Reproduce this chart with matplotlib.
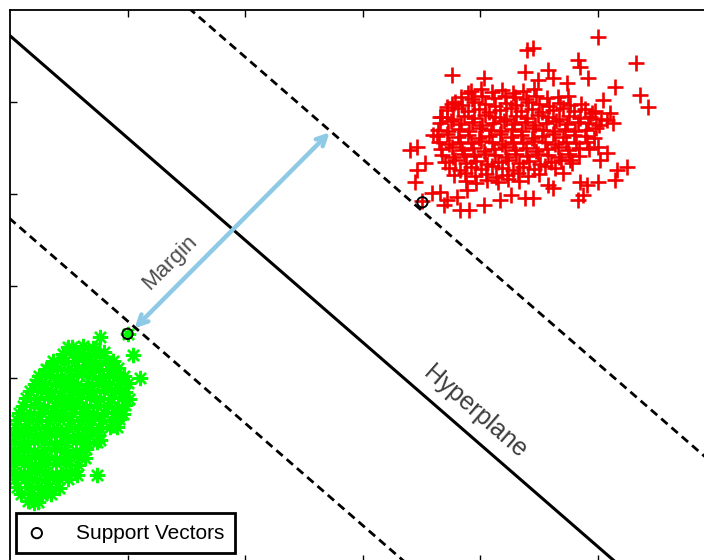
import matplotlib.pyplot as plt
import numpy as np

# Class +1 samples (red plus markers)
red_x = [
    # dense core
    3.92, 4.01, 4.10, 4.19, 4.28, 4.37, 4.46,
    3.84, 3.93, 4.02, 4.12, 4.21, 4.30, 4.39, 4.48, 4.57, 4.66, 4.75,
    3.76, 3.85, 3.95, 4.04, 4.13, 4.22, 4.31, 4.41, 4.50, 4.59, 4.68, 4.77, 4.86,
    3.72, 3.81, 3.90, 3.99, 4.08, 4.17, 4.26, 4.35, 4.44, 4.53, 4.62, 4.71, 4.80, 4.89, 4.98,
    3.68, 3.77, 3.86, 3.95, 4.04, 4.13, 4.22, 4.31, 4.40, 4.49, 4.58, 4.67, 4.76, 4.85, 4.94, 5.03,
    3.66, 3.75, 3.84, 3.93, 4.02, 4.11, 4.20, 4.29, 4.38, 4.47, 4.56, 4.65, 4.74, 4.83, 4.92, 5.01,
    3.64, 3.73, 3.82, 3.91, 4.00, 4.09, 4.18, 4.27, 4.36, 4.45, 4.54, 4.63, 4.72, 4.81, 4.90, 4.99,
    3.63, 3.72, 3.81, 3.90, 3.99, 4.08, 4.17, 4.26, 4.35, 4.44, 4.53, 4.62, 4.71, 4.80, 4.89, 4.97,
    3.65, 3.74, 3.83, 3.92, 4.01, 4.10, 4.19, 4.28, 4.37, 4.46, 4.55, 4.64, 4.73, 4.82, 4.91,
    3.67, 3.76, 3.85, 3.94, 4.03, 4.12, 4.21, 4.30, 4.39, 4.48, 4.57, 4.66, 4.75, 4.84, 4.93,
    3.68, 3.77, 3.86, 3.95, 4.04, 4.13, 4.22, 4.31, 4.40, 4.49, 4.58, 4.67, 4.76, 4.84,
    3.70, 3.79, 3.88, 3.97, 4.06, 4.15, 4.24, 4.33, 4.42, 4.51, 4.60, 4.69, 4.78,
    3.74, 3.83, 3.92, 4.01, 4.10, 4.19, 4.28, 4.37, 4.46, 4.55, 4.64,
    3.78, 3.87, 3.96, 4.05, 4.14, 4.23, 4.32, 4.41, 4.50,
    3.88, 3.97, 4.06, 4.15, 4.24, 4.33,
    # scattered points
    5.00, 5.33, 4.83, 4.40, 4.38, 4.45, 4.58, 4.74, 4.92, 4.85, 4.49, 4.62,
    3.76, 4.03, 5.15, 5.36, 5.43, 5.05, 5.11, 4.95, 5.08, 5.13, 3.90, 3.79,
    3.72, 3.66, 3.46, 3.45, 3.46, 3.53, 3.60, 3.59, 3.69, 3.83, 3.91, 4.03,
    4.17, 4.26, 4.38, 3.72, 3.66, 3.80, 3.89, 5.25, 5.17, 5.15, 5.00, 4.91,
    4.85, 4.83, 4.88, 4.58, 4.62, 4.45, 4.71, 4.77, 5.08, 5.00, 5.02, 3.40,
    3.51,
]
red_y = [
    5.12, 5.14, 5.11, 5.13, 5.10, 5.12, 5.14,
    5.05, 5.03, 5.06, 5.04, 5.07, 5.05, 5.03, 5.06, 5.04, 5.05, 5.07,
    4.98, 4.97, 5.00, 4.98, 4.96, 4.99, 4.97, 5.00, 4.98, 4.96, 4.99, 4.97, 4.98,
    4.91, 4.93, 4.90, 4.92, 4.89, 4.91, 4.93, 4.90, 4.92, 4.89, 4.91, 4.93, 4.90, 4.92, 4.90,
    4.84, 4.82, 4.85, 4.83, 4.86, 4.84, 4.82, 4.85, 4.83, 4.86, 4.84, 4.82, 4.85, 4.83, 4.84, 4.82,
    4.77, 4.79, 4.76, 4.78, 4.75, 4.77, 4.79, 4.76, 4.78, 4.75, 4.77, 4.79, 4.76, 4.78, 4.77, 4.75,
    4.70, 4.68, 4.71, 4.69, 4.72, 4.70, 4.68, 4.71, 4.69, 4.72, 4.70, 4.68, 4.71, 4.69, 4.70, 4.72,
    4.63, 4.65, 4.62, 4.64, 4.61, 4.63, 4.65, 4.62, 4.64, 4.61, 4.63, 4.65, 4.62, 4.64, 4.63, 4.61,
    4.56, 4.54, 4.57, 4.55, 4.58, 4.56, 4.54, 4.57, 4.55, 4.58, 4.56, 4.54, 4.57, 4.55, 4.56,
    4.49, 4.51, 4.48, 4.50, 4.47, 4.49, 4.51, 4.48, 4.50, 4.47, 4.49, 4.51, 4.48, 4.50, 4.49,
    4.42, 4.40, 4.43, 4.41, 4.44, 4.42, 4.40, 4.43, 4.41, 4.44, 4.42, 4.40, 4.43, 4.41,
    4.35, 4.37, 4.34, 4.36, 4.33, 4.35, 4.37, 4.34, 4.36, 4.33, 4.35, 4.37, 4.34,
    4.28, 4.26, 4.29, 4.27, 4.30, 4.28, 4.26, 4.29, 4.27, 4.30, 4.28,
    4.21, 4.23, 4.20, 4.22, 4.19, 4.21, 4.23, 4.20, 4.22,
    4.14, 4.12, 4.15, 4.13, 4.16, 4.14,
    5.71, 5.42, 5.46, 5.57, 5.33, 5.59, 5.35, 5.21, 5.26, 5.38, 5.24, 5.26,
    5.29, 5.26, 5.16, 5.08, 4.95, 5.02, 4.88, 4.88, 4.80, 4.77, 5.10, 5.00,
    4.95, 4.84, 4.51, 4.13, 4.26, 4.34, 4.64, 4.01, 3.88, 3.83, 3.83, 3.88,
    3.93, 3.99, 3.96, 3.93, 4.02, 3.97, 4.04, 4.29, 4.26, 4.15, 4.13, 4.10,
    4.13, 3.93, 3.99, 4.10, 4.07, 3.96, 4.23, 4.37, 4.45, 4.51, 4.37, 4.48,
    3.92,
]

# Class -1 samples (green asterisks)
green_x = [
    0.53, 0.62, 0.71,
    0.45, 0.54, 0.63, 0.72, 0.80,
    0.37, 0.46, 0.55, 0.64, 0.73, 0.82, 0.88,
    0.31, 0.40, 0.49, 0.58, 0.67, 0.76, 0.85, 0.92,
    0.25, 0.34, 0.43, 0.52, 0.61, 0.70, 0.79, 0.88, 0.97,
    0.21, 0.30, 0.39, 0.48, 0.57, 0.66, 0.75, 0.84, 0.93, 1.00,
    0.17, 0.26, 0.35, 0.44, 0.53, 0.62, 0.71, 0.80, 0.89, 0.98,
    0.14, 0.23, 0.32, 0.41, 0.50, 0.59, 0.68, 0.77, 0.86, 0.95, 1.01,
    0.11, 0.20, 0.29, 0.38, 0.47, 0.56, 0.65, 0.74, 0.83, 0.92, 0.98,
    0.08, 0.17, 0.26, 0.35, 0.44, 0.53, 0.62, 0.71, 0.80, 0.89, 0.96,
    0.06, 0.15, 0.24, 0.33, 0.42, 0.51, 0.60, 0.69, 0.78, 0.87, 0.93,
    0.05, 0.13, 0.22, 0.31, 0.40, 0.49, 0.58, 0.67, 0.76, 0.85,
    0.04, 0.12, 0.21, 0.30, 0.39, 0.48, 0.57, 0.66, 0.75,
    0.03, 0.11, 0.20, 0.29, 0.38, 0.47, 0.56, 0.65, 0.74,
    0.03, 0.11, 0.20, 0.29, 0.38, 0.47, 0.56, 0.65,
    0.03, 0.12, 0.21, 0.30, 0.39, 0.48, 0.57, 0.64,
    0.03, 0.12, 0.21, 0.30, 0.39, 0.48, 0.58,
    0.03, 0.12, 0.21, 0.30, 0.39, 0.48, 0.55,
    0.04, 0.13, 0.22, 0.31, 0.40, 0.49,
    0.06, 0.15, 0.24, 0.33, 0.42,
    0.09, 0.18, 0.27, 0.35,
    0.15, 0.24,
    # scattered points
    0.77, 1.05, 0.32, 0.24, 1.11, 0.72, 0.49, 0.74, 0.57, 0.30, 0.91, 0.77,
    0.20, 1.00,
]
green_y = [
    2.34, 2.35, 2.33,
    2.26, 2.27, 2.25, 2.26, 2.28,
    2.18, 2.17, 2.19, 2.18, 2.16, 2.18, 2.19,
    2.10, 2.11, 2.09, 2.10, 2.12, 2.10, 2.09, 2.11,
    2.02, 2.03, 2.01, 2.02, 2.04, 2.02, 2.01, 2.03, 2.02,
    1.94, 1.93, 1.95, 1.94, 1.92, 1.94, 1.95, 1.93, 1.94, 1.95,
    1.86, 1.87, 1.85, 1.86, 1.88, 1.86, 1.85, 1.87, 1.86, 1.85,
    1.78, 1.77, 1.79, 1.78, 1.76, 1.78, 1.79, 1.77, 1.78, 1.79, 1.77,
    1.70, 1.71, 1.69, 1.70, 1.72, 1.70, 1.69, 1.71, 1.70, 1.69, 1.71,
    1.62, 1.61, 1.63, 1.62, 1.60, 1.62, 1.63, 1.61, 1.62, 1.63, 1.61,
    1.54, 1.55, 1.53, 1.54, 1.56, 1.54, 1.53, 1.55, 1.54, 1.53, 1.55,
    1.46, 1.45, 1.47, 1.46, 1.44, 1.46, 1.47, 1.45, 1.46, 1.47,
    1.38, 1.39, 1.37, 1.38, 1.40, 1.38, 1.37, 1.39, 1.38,
    1.30, 1.29, 1.31, 1.30, 1.28, 1.30, 1.31, 1.29, 1.30,
    1.22, 1.23, 1.21, 1.22, 1.24, 1.22, 1.21, 1.23,
    1.14, 1.13, 1.15, 1.14, 1.12, 1.14, 1.15, 1.13,
    1.06, 1.07, 1.05, 1.06, 1.08, 1.06, 1.05,
    0.98, 0.97, 0.99, 0.98, 0.96, 0.98, 0.99,
    0.90, 0.91, 0.89, 0.90, 0.92, 0.90,
    0.82, 0.81, 0.83, 0.82, 0.80,
    0.74, 0.75, 0.73, 0.74,
    0.66, 0.65,
    2.45, 2.25, 2.09, 1.98, 2.00, 2.30, 2.34, 0.95, 0.95, 0.78, 1.47, 1.33,
    0.64, 2.48,
]

# Support vectors
sv_x = [3.51, 1.00]
sv_y = [3.91, 2.48]

# Separating line y = slope * x + intercept, margins offset by +/- gap
slope = -1.11
intercept = 5.72
gap = 1.99

# Double-headed margin arrow endpoints
arrow_start = (2.72, 4.67)
arrow_end = (1.06, 2.54)

fig = plt.figure(figsize=(7.04, 5.6), dpi=100)
ax = fig.add_axes([10 / 704, -2 / 560, 705 / 704, 552 / 560])

ax.plot(red_x, red_y, linestyle='none', marker='+', color='#f20000',
        markersize=11, markeredgewidth=1.9)
ax.plot(green_x, green_y, linestyle='none', marker=(8, 2, 0), color='#00ff00',
        markersize=11, markeredgewidth=1.7)

xs = np.array([-1.0, 7.0])
ax.plot(xs, slope * xs + intercept, color='black', lw=2.2)
ax.plot(xs, slope * xs + intercept + gap, color='black', lw=2,
        linestyle=(0, (3.0, 1.9)))
ax.plot(xs, slope * xs + intercept - gap, color='black', lw=2,
        linestyle=(0, (3.0, 1.9)))

ax.scatter(sv_x, sv_y, s=55, facecolors='none', edgecolors='black',
           linewidths=1.4, zorder=5, label='Support Vectors')

ax.annotate('', xy=arrow_start, xytext=arrow_end,
            arrowprops=dict(arrowstyle='<->,head_length=0.7,head_width=0.35',
                            color='#8ecae6', lw=3.2, shrinkA=0, shrinkB=0))

ax.text(1.36, 3.26, 'Margin', rotation=45, ha='center', va='center',
        fontsize=16, color='#4d4d4d', family='Liberation Sans')
ax.text(3.96, 1.63, 'Hyperplane', rotation=-41, ha='center', va='center',
        fontsize=18, color='#3d3d3d', family='Liberation Sans')

ax.set_xlim(0, 6)
ax.set_ylim(0, 6)
ax.set_xticks([1, 2, 3, 4, 5])
ax.set_yticks([1, 2, 3, 4, 5])
ax.set_xticklabels([])
ax.set_yticklabels([])
ax.tick_params(direction='in', length=5, width=1, top=True, right=True)
for spine in ax.spines.values():
    spine.set_linewidth(1.3)

leg = ax.legend(loc='lower left', bbox_to_anchor=(0.0085, 0.0163),
                borderaxespad=0, fancybox=False, framealpha=1,
                edgecolor='black', handletextpad=1.4, handlelength=1.0,
                borderpad=0.5, prop={'family': 'Liberation Sans', 'size': 15})
leg.get_frame().set_linewidth(2)

fig.savefig('out.png', dpi=100)
